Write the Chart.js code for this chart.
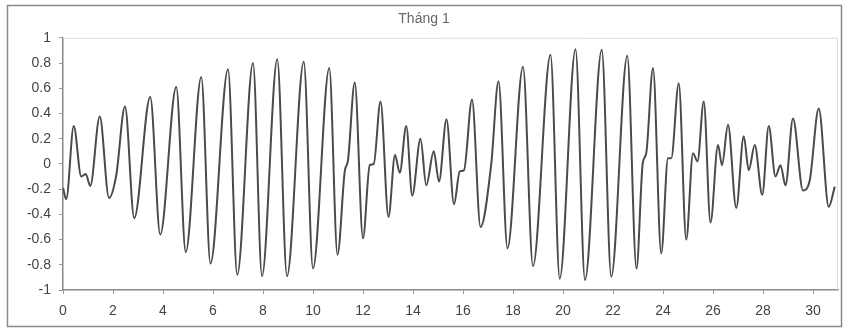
<!DOCTYPE html>
<html>
<head>
<meta charset="utf-8">
<script src="https://cdn.jsdelivr.net/npm/chart.js@4.4.1/dist/chart.umd.min.js"></script>
<style>
  html, body { margin: 0; padding: 0; background: #fff; }
  #wrap { width: 845px; height: 333px; }
</style>
</head>
<body>
<div id="wrap"><canvas id="tide" width="845" height="333"></canvas></div>
<script>
// ngày trong tháng (trục x) và mực nước (trục y), đọc tại các đỉnh / chân sóng
var days = [0, 0.13, 0.43, 0.73, 0.91, 1.09, 1.47, 1.84, 2.13, 2.48, 2.85, 3.49, 3.89, 4.53, 4.91,
    5.53, 5.9, 6.6, 6.97, 7.6, 7.96, 8.57, 8.96, 9.63, 10.0, 10.65, 10.98, 11.27, 11.4, 11.67,
    12.0, 12.27, 12.43, 12.7, 13.02, 13.28, 13.47, 13.73, 13.97, 14.3, 14.53, 14.83, 15.04,
    15.34, 15.64, 15.87, 16.04, 16.36, 16.7, 17.13, 17.42, 17.78, 18.4, 18.8, 19.5, 19.87,
    20.5, 20.88, 21.55, 21.93, 22.57, 22.94, 23.19, 23.33, 23.6, 23.93, 24.2, 24.33, 24.63,
    24.93, 25.2, 25.38, 25.63, 25.9, 26.2, 26.36, 26.6, 26.93, 27.23, 27.43, 27.67, 27.97,
    28.23, 28.5, 28.7, 28.9, 29.2, 29.6, 29.87, 30.23, 30.63, 30.87];
var levels = [-0.19, -0.28, 0.30, -0.10, -0.08, -0.175, 0.375, -0.27, -0.09, 0.455, -0.43, 0.53, -0.56, 0.61, -0.70,
    0.69, -0.79, 0.75, -0.88, 0.80, -0.89, 0.83, -0.89, 0.81, -0.83, 0.76, -0.72, -0.06, 0.03, 0.645,
    -0.59, -0.01, 0.0, 0.495, -0.42, 0.07, -0.07, 0.30, -0.25, 0.20, -0.17, 0.10, -0.14,
    0.355, -0.32, -0.06, -0.05, 0.51, -0.50, 0.0, 0.655, -0.67, 0.77, -0.81, 0.865, -0.91,
    0.91, -0.92, 0.905, -0.895, 0.857, -0.83, 0.005, 0.085, 0.76, -0.71, 0.045, 0.045, 0.64,
    -0.60, 0.085, 0.02, 0.495, -0.465, 0.15, -0.01, 0.31, -0.35, 0.22, -0.05, 0.15, -0.245,
    0.30, -0.10, -0.01, -0.17, 0.36, -0.21, -0.13, 0.44, -0.34, -0.18];
var chartTitle = 'Tháng 1';

var points = [];
for (var i = 0; i < days.length; i++) {
    points.push({x: days[i], y: levels[i]});
}

// khung viền ngoài + viền mờ quanh vùng vẽ
var frame = {
    id: 'frame',
    beforeDraw: function (chart) {
        var c = chart.ctx;
        c.save();
        c.fillStyle = '#fff';
        c.fillRect(0, 0, chart.width, chart.height);
        c.restore();
    },
    afterDraw: function (chart) {
        var c = chart.ctx, a = chart.chartArea;
        c.save();
        c.strokeStyle = '#8a8a8a';
        c.lineWidth = 1.5;
        c.strokeRect(7.5, 5.5, 834, 321);
        c.strokeStyle = '#dedede';
        c.lineWidth = 1;
        c.beginPath();
        c.moveTo(a.left, a.top + 0.5);
        c.lineTo(a.right - 0.5, a.top + 0.5);
        c.lineTo(a.right - 0.5, a.bottom);
        c.stroke();
        c.restore();
    }
};

var ctx = document.getElementById('tide');
var chart = new Chart(ctx, {
    type: 'line',
    data: {
        datasets: [{
            label: chartTitle,
            data: points,
            borderColor: '#4a4a4a',
            borderWidth: 2,
            pointRadius: 0,
            cubicInterpolationMode: 'monotone',
            fill: false
        }]
    },
    options: {
        responsive: false,
        animation: false,
        devicePixelRatio: 1,
        layout: {padding: {left: 10, right: 7, top: 6, bottom: 10}},
        plugins: {
            legend: {display: false},
            tooltip: {enabled: false},
            title: {
                display: true,
                text: chartTitle,
                color: '#666',
                font: {family: 'Liberation Sans, Arial, sans-serif', size: 14, weight: 'normal'},
                padding: {top: 5, bottom: 10}
            }
        },
        scales: {
            x: {
                type: 'linear',
                min: 0,
                max: 31,
                afterFit: function (s) { s.height = 33; },
                grid: {drawOnChartArea: false, drawTicks: true, tickLength: 4, color: '#999'},
                border: {display: true, color: '#888', width: 1.5},
                ticks: {
                    stepSize: 2,
                    includeBounds: false,
                    maxRotation: 0,
                    padding: 9,
                    color: '#444',
                    font: {family: 'Liberation Sans, Arial, sans-serif', size: 14}
                }
            },
            y: {
                min: -1,
                max: 1,
                afterFit: function (s) { s.width = 53; },
                grid: {drawOnChartArea: false, drawTicks: true, tickLength: 4, color: '#999'},
                border: {display: true, color: '#888', width: 1.5},
                ticks: {
                    stepSize: 0.2,
                    padding: 8,
                    color: '#444',
                    font: {family: 'Liberation Sans, Arial, sans-serif', size: 14},
                    callback: function (v) { return String(Number(v.toFixed(1))); }
                }
            }
        }
    },
    plugins: [frame]
});
</script>
</body>
</html>
